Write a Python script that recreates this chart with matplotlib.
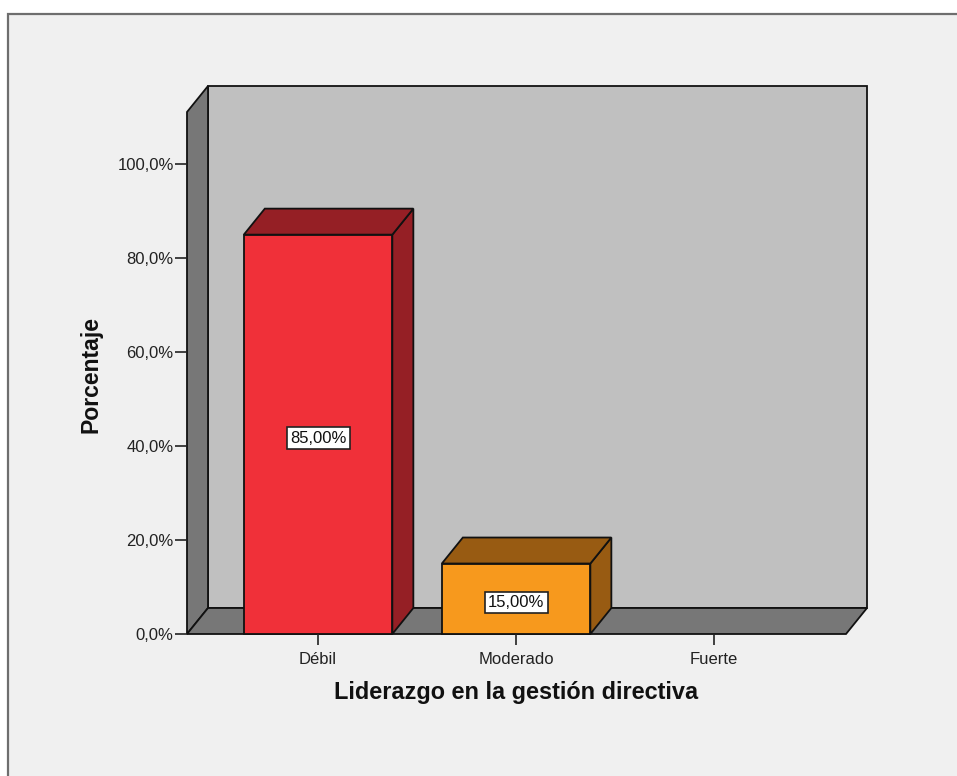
import matplotlib
matplotlib.use('Agg')
import matplotlib.pyplot as plt
from matplotlib.patches import Polygon, Rectangle
from matplotlib.ticker import FuncFormatter

# data
categories = ['Débil', 'Moderado', 'Fuerte']
percentages = [85.0, 15.0, 0.0]
front_colors = ['#F03039', '#F7991D']
shade_colors = ['#951F25', '#985B12']
y_ticks = [0, 20, 40, 60, 80, 100]

plt.rcParams['font.family'] = ['Liberation Sans', 'DejaVu Sans']

W, H = 957, 776
fig = plt.figure(figsize=(W / 100, H / 100), dpi=100, facecolor='white')

# grey panel with its frame, kept behind the axes
fig.patches.append(Rectangle((8 / W, -0.05), 1.1, 1 - 14 / H + 0.05,
                             transform=fig.transFigure, facecolor='#F0F0F0',
                             edgecolor='#6E6E6E', linewidth=1.6, zorder=-10))

# front plane of the box (pixels)
left_px, right_px, bottom_px, top_px = 187, 846, 634, 112
ax = fig.add_axes([left_px / W, 1 - bottom_px / H,
                   (right_px - left_px) / W, (bottom_px - top_px) / H])
ax.set_zorder(5)
ax.patch.set_alpha(0)
x0, x1 = -0.662, 2.666
y0, y1 = 0, 111.1
ax.set_xlim(x0, x1)
ax.set_ylim(y0, y1)

# depth of the 3D effect, pixels -> data units
dx = 21 * (x1 - x0) / (right_px - left_px)
dy = 26 * (y1 - y0) / (bottom_px - top_px)

wall = '#777777'
edge = dict(edgecolor='#111111', linewidth=1.3, clip_on=False, joinstyle='miter')

# back wall, left wall, floor
ax.add_patch(Rectangle((x0 + dx, y0 + dy), x1 - x0, y1 - y0, facecolor='#C0C0C0', **edge))
ax.add_patch(Polygon([(x0, y0), (x0, y1), (x0 + dx, y1 + dy), (x0 + dx, y0 + dy)],
                     facecolor=wall, **edge))
ax.add_patch(Polygon([(x0, y0), (x1, y0), (x1 + dx, y0 + dy), (x0 + dx, y0 + dy)],
                     facecolor=wall, **edge))

bw = 0.75
for i, (cat, val) in enumerate(zip(categories, percentages)):
    if val <= 0:
        continue
    l, r = i - bw / 2, i + bw / 2
    fc, sc = front_colors[i], shade_colors[i]
    ax.add_patch(Polygon([(r, 0), (r, val), (r + dx, val + dy), (r + dx, dy)],
                         facecolor=sc, **edge))
    ax.add_patch(Polygon([(l, val), (r, val), (r + dx, val + dy), (l + dx, val + dy)],
                         facecolor=sc, **edge))
    ax.add_patch(Rectangle((l, 0), bw, val, facecolor=fc, **edge))
    ax.text(i, val / 2 - 0.8, f'{val:.2f}%'.replace('.', ','), ha='center', va='center',
            fontsize=12, color='#111111',
            bbox=dict(boxstyle='square,pad=0.2', facecolor='white',
                      edgecolor='#222222', linewidth=1.2))

for s in ax.spines.values():
    s.set_visible(False)

ax.set_yticks(y_ticks)
ax.yaxis.set_major_formatter(FuncFormatter(lambda v, p: f'{v:.1f}%'.replace('.', ',')))
ax.set_xticks(range(len(categories)))
ax.set_xticklabels(categories)
ax.tick_params(axis='y', length=8.6, width=1.2, color='#222222', pad=1,
               labelsize=12, labelcolor='#222222')
ax.tick_params(axis='x', length=8, width=1.2, color='#222222', pad=5,
               labelsize=12, labelcolor='#222222')

fig.text(91 / W, 1 - 374 / H, 'Porcentaje', rotation=90, ha='center', va='center',
         fontsize=16.6, fontweight='bold', color='#111111')
fig.text(516 / W, 1 - 692 / H, 'Liderazgo en la gestión directiva', ha='center',
         va='center', fontsize=16.9, fontweight='bold', color='#111111')

fig.savefig('out.png', dpi=100, facecolor=fig.get_facecolor())
